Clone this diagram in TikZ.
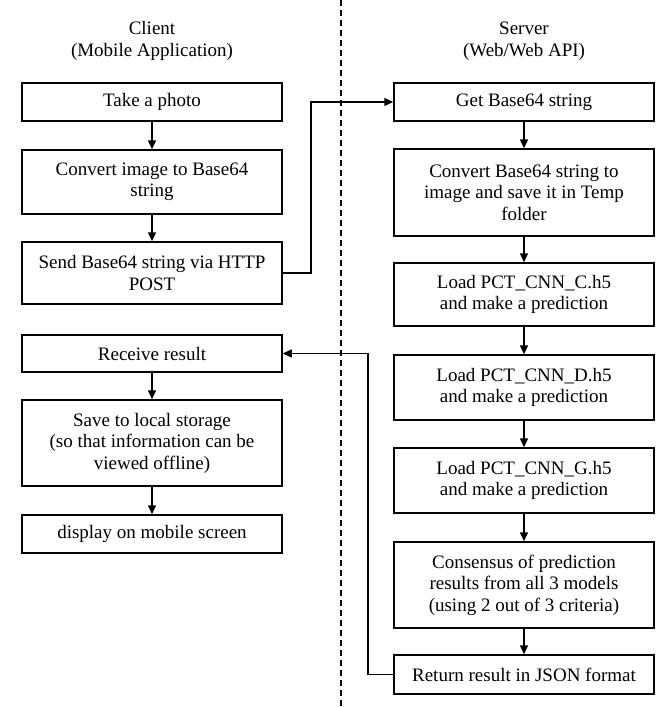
\documentclass[tikz,border=0pt]{standalone}
\usepackage{fontspec}
\setmainfont{Liberation Serif}
\usetikzlibrary{arrows.meta}
\begin{document}
\begin{tikzpicture}[x=1pt,y=-1pt,
  box/.style={draw=black, line width=1.5pt, rectangle, minimum width=260pt,
    align=center, inner sep=2pt, font=\fontsize{19}{21.5}\selectfont},
  head/.style={align=center, font=\fontsize{19}{22}\selectfont},
  link/.style={line width=1.5pt, -{Triangle[length=9pt,width=8pt]}},
  wire/.style={line width=1.5pt}]
\useasboundingbox (0,0) rectangle (661,707);
\fill[white] (0,0) rectangle (661,707);

% lane divider
\draw[line width=1.5pt, dash pattern=on 6pt off 4pt] (341,0) -- (341,707);

% lane headings
\node[head] (hc) at (152,41) {Client\\(Mobile Application)};
\node[head] (hs) at (524,41) {Server\\(Web/Web API)};

% client side
\node[box, minimum height=38pt] (take) at (152,102) {Take a photo};
\node[box, minimum height=64pt] (conv) at (152,182) {Convert image to Base64\\string};
\node[box, minimum height=62pt] (send) at (152,273) {Send Base64 string via HTTP\\POST};
\node[box, minimum height=37pt] (recv) at (152,353.5) {Receive result};
\node[box, minimum height=86pt] (save) at (152,443) {Save to local storage\\(so that information can be\\viewed offline)};
\node[box, minimum height=38pt] (disp) at (152,534) {display on mobile screen};

% server side
\node[box, minimum height=38pt] (get) at (524,102) {Get Base64 string};
\node[box, minimum height=87pt] (tmp) at (524,192.5) {Convert Base64 string to\\image and save it in Temp\\folder};
\node[box, minimum height=63pt] (ldc) at (524,294.5) {Load PCT\_CNN\_C.h5\\and make a prediction};
\node[box, minimum height=65pt] (ldd) at (524,387.5) {Load PCT\_CNN\_D.h5\\and make a prediction};
\node[box, minimum height=65pt] (ldg) at (524,480.5) {Load PCT\_CNN\_G.h5\\and make a prediction};
\node[box, minimum height=86pt] (cons) at (524,585) {Consensus of prediction\\results from all 3 models\\(using 2 out of 3 criteria)};
\node[box, minimum height=39pt] (ret) at (524,674.5) {Return result in JSON format};

% flow within each lane
\draw[link] (take) -- (conv);
\draw[link] (conv) -- (send);
\draw[link] (recv) -- (save);
\draw[link] (save) -- (disp);
\draw[link] (get) -- (tmp);
\draw[link] (tmp) -- (ldc);
\draw[link] (ldc) -- (ldd);
\draw[link] (ldd) -- (ldg);
\draw[link] (ldg) -- (cons);
\draw[link] (cons) -- (ret);

% request and response across lanes
\draw[link] (send.east) -- (311,273) -- (311,102) -- (get.west);
\draw[link] (ret.west) -- (368,674.5) -- (368,353.5) -- (recv.east);
\end{tikzpicture}
\end{document}
